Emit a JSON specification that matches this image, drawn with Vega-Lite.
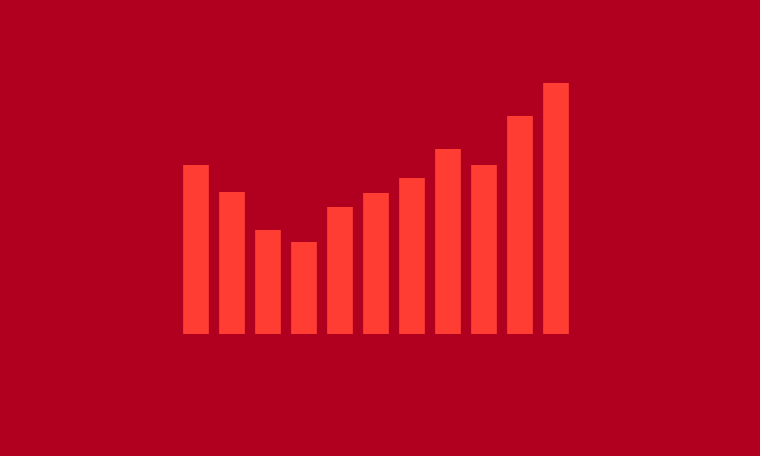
{
  "$schema": "https://vega.github.io/schema/vega-lite/v6.json",
  "autosize": {"type": "none"},
  "padding": {"left": 178, "top": 74, "right": 186, "bottom": 122},
  "width": 396,
  "height": 260,
  "background": "#B1001F",
  "config": {"view": {"stroke": null}},
  "data": {
    "values": [
      {"i": 1, "v": 169},
      {"i": 2, "v": 142},
      {"i": 3, "v": 104},
      {"i": 4, "v": 92},
      {"i": 5, "v": 127},
      {"i": 6, "v": 141},
      {"i": 7, "v": 156},
      {"i": 8, "v": 185},
      {"i": 9, "v": 169},
      {"i": 10, "v": 218},
      {"i": 11, "v": 251}
    ]
  },
  "mark": {"type": "bar", "color": "#FF3D33"},
  "encoding": {
    "x": {
      "field": "i",
      "type": "ordinal",
      "axis": null,
      "scale": {"paddingInner": 0.286, "paddingOuter": 0.143}
    },
    "y": {
      "field": "v",
      "type": "quantitative",
      "axis": null,
      "scale": {"domain": [0, 260], "nice": false}
    }
  }
}
